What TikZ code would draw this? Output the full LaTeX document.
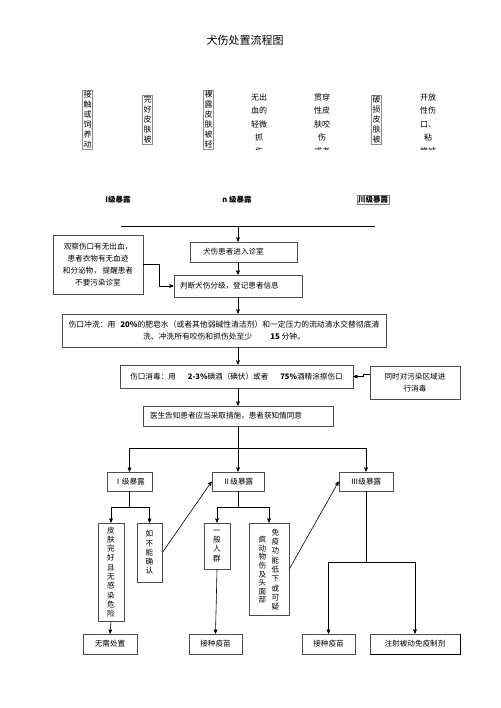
\documentclass[tikz,border=0pt]{standalone}
\usepackage{fontspec}
\setmainfont{Noto Sans CJK SC}
\usetikzlibrary{arrows,positioning,calc}

\begin{document}
\begin{tikzpicture}[>=stealth',semithick,x=1pt,y=-1pt]
  \tikzstyle{box}=[draw=black!70,line width=0.7pt,inner sep=0pt,align=center,font=\fontsize{7.6}{12}\selectfont]
  \tikzstyle{vbox}=[box,font=\fontsize{7.6}{9.3}\selectfont]
  \tikzstyle{vtxt}=[inner sep=0pt,align=center,anchor=north,font=\fontsize{7.6}{9.3}\selectfont]
  \tikzstyle{toptext}=[inner sep=0pt,align=center,anchor=north,font=\fontsize{8}{13.5}\selectfont]
  \tikzstyle{topbox}=[draw=black!45,line width=0.4pt,inner sep=1pt,align=center,anchor=north,font=\fontsize{8}{10}\selectfont]
  \tikzstyle{grade}=[inner sep=1pt,font=\fontsize{7.5}{9}\selectfont\bfseries]

  \useasboundingbox (0,0) rectangle (500,708);

  \node[font=\fontsize{11}{13}\selectfont] (title) at (245,40) {犬伤处置流程图};

  % top row
  \node[topbox] (contact) at (87.5,90) {接\\触\\或\\饲\\养\\动};
  \node[topbox] (intact) at (147.5,95) {完\\好\\皮\\肤\\被};
  \node[topbox] (bare) at (208.5,90) {裸\\露\\皮\\肤\\被\\轻};
  \node[topbox] (broken) at (376.5,95) {破\\损\\皮\\肤\\被};
  \begin{scope}
    \clip (240,85) rectangle (460,149.5);
    \node[toptext] (scratch) at (259,93) {无出\\血的\\轻微\\抓\\伤};
    \node[toptext] (pierce) at (322,93) {贯穿\\性皮\\肤咬\\伤\\或者};
    \node[toptext] (open) at (428,93) {开放\\性伤\\口、\\粘\\膜被};
  \end{scope}

  \node[grade] (gradeA) at (118,200) {I级暴露};
  \node[grade] (gradeB) at (237,200) {n 级暴露};
  \node[grade,draw=black!50,line width=0.4pt] (gradeC) at (373,200) {川级暴露};

  \coordinate (barL) at (121,226);
  \coordinate (barR) at (375,226);
  \coordinate (barM) at (238,226);
  \draw (barL) -- (barR);

  % main steps
  \node[box,minimum width=107,minimum height=20,text width=81,align=left] (enter) at (243.5,252) {犬伤患者进入诊室};
  \node[box,minimum width=128,minimum height=22,text width=116,align=left] (judge) at (238,286) {判断犬伤分级，登记患者信息};
  \node[box,minimum width=90,minimum height=59] (observe) at (98,264.5) {观察伤口有无出血，\\患者衣物有无血迹\\和分泌物， 提醒患者\\不要污染诊室};
  \node[box,minimum width=324,minimum height=33,font=\fontsize{7.8}{11.5}\selectfont] (wash) at (224,330.5)
    {伤口冲洗：用\hspace{5pt}\textbf{20\%}的肥皂水（或者其他弱碱性清洁剂）和一定压力的流动清水交替彻底清\\
     洗、冲洗所有咬伤和抓伤处至少\hspace{18pt}\textbf{15} 分钟。};
  \node[box,minimum width=233,minimum height=23] (disinfect) at (236.5,376.5)
    {伤口消毒：用\hspace{12pt}\textbf{2-3\%}碘酒（碘伏）或者\hspace{12pt}\textbf{75\%}酒精涂擦伤口};
  \node[box,minimum width=90,minimum height=33] (same) at (415,382.5) {同时对污染区域进\\行消毒};
  \node[box,minimum width=190,minimum height=20,text width=176,align=left] (inform) at (238,416) {医生告知患者应当采取措施，患者获知情同意};

  % exposure levels
  \node[box,minimum width=45,minimum height=19] (lv1) at (129.5,481.5) {Ⅰ级暴露};
  \node[box,minimum width=52,minimum height=19] (lv2) at (238,481.5) {Ⅱ级暴露};
  \node[box,minimum width=54,minimum height=19] (lv3) at (366,481.5) {Ⅲ级暴露};

  \node[vbox,minimum width=26,minimum height=98] (skin) at (111,572) {皮\\肤\\完\\好\\且\\无\\感\\染\\危\\险};
  \node[vbox,minimum width=25,minimum height=59] (unsure) at (149.5,552.5) {如\\不\\能\\确\\认};
  \node[vbox,minimum width=26,minimum height=46] (general) at (217,546) {一\\般\\人\\群};
  \node[box,minimum width=40,minimum height=92] (immune) at (269,569) {};
  \node[vtxt] (immuneA) at (275.5,528.5) {免\\疫\\功\\能\\低\\下\\或\\可\\疑};
  \node[vtxt,font=\fontsize{7.6}{8.6}\selectfont] (immuneB) at (262.5,536) {疯\\动\\物\\伤\\及\\头\\面\\部};

  \node[box,minimum width=54,minimum height=20] (none) at (110,644) {无需处置};
  \node[box,minimum width=53,minimum height=20] (vacc1) at (215.5,644) {接种疫苗};
  \node[box,minimum width=53,minimum height=20] (vacc2) at (328.5,644) {接种疫苗};
  \node[box,minimum width=90,minimum height=20] (passive) at (415,644) {注射被动免疫制剂};
  \draw[line width=1.2pt] (passive.south west) -- (passive.south east) -- (passive.north east);

  % connectors
  \draw[->] (barM) -- (barM |- enter.north);
  \draw[->] (barM |- enter.south) -- (judge.north);
  \draw[->] (observe.east) -- ++(16,0) |- (judge.west);
  \draw[->] (judge.south) -- (judge.south |- wash.north);
  \draw[->] (wash.south -| barM) -- (disinfect.north -| barM);
  \draw[->] ([yshift=8pt]same.west) -- ++(-6,0) |- (disinfect.east);
  \draw[->] (disinfect.south -| barM) -- (inform.north);
  \draw[->] (inform.south) -- (lv2.north);
  \draw[->] (inform.south) -- ++(0,22) -| (lv1.north);
  \draw[->] (inform.south) -- ++(0,22) -| (lv3.north);

  \draw[->] (lv1.south) -- ++(0,16) -| (skin.north);
  \draw[->] (lv1.south) -- ++(0,16) -| (unsure.north);
  \draw[->] (lv2.south) -- ++(0,16) -| (general.north);
  \draw[->] (lv2.south) -- ++(0,16) -| (immune.north);
  \draw[->] (unsure.east) -- (lv2.west);
  \draw[->] (immune.east) -- (lv3.west);
  \draw[->] (skin.south) -- (none.north);
  \draw[->] (general.south) -- (vacc1.north);
  \draw[->] (lv3.south) -- ++(0,71) -| (vacc2.north);
  \draw[->] (lv3.south) -- ++(0,71) -| (passive.north);
\end{tikzpicture}
\end{document}
